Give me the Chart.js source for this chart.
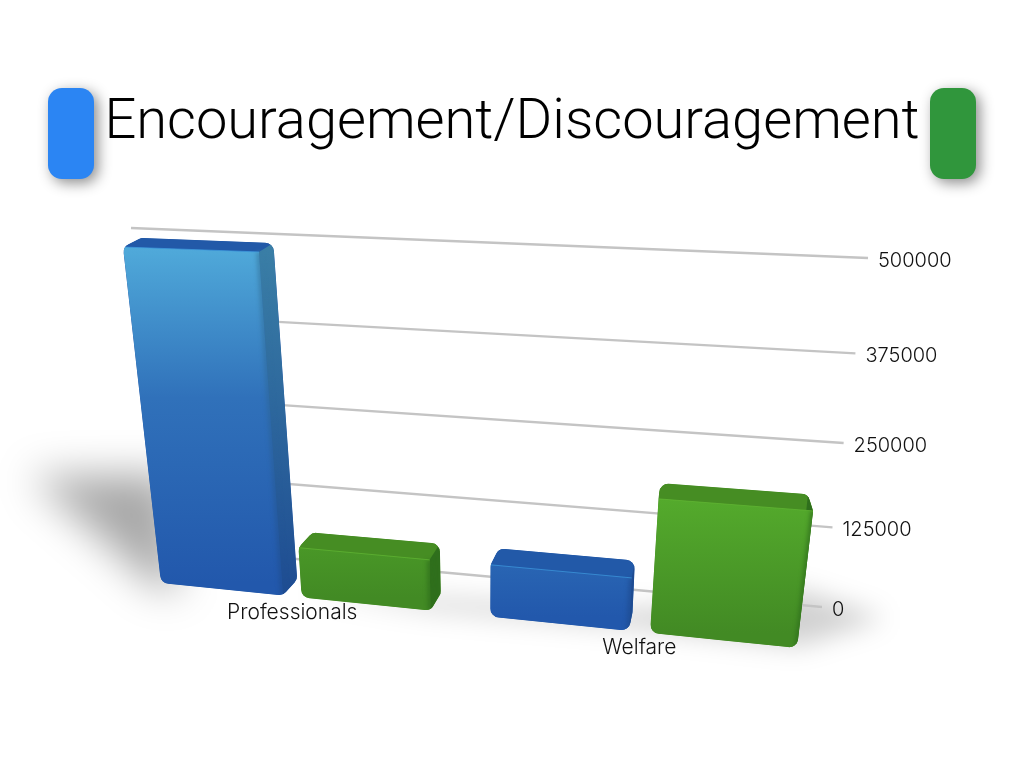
<!DOCTYPE html>
<html>
<head>
<meta charset="utf-8">
<title>Encouragement/Discouragement</title>
<script src="https://cdn.jsdelivr.net/npm/chart.js@4/dist/chart.umd.min.js"></script>
<style>
  html, body { margin: 0; padding: 0; background: #fff; }
  #wrap { width: 1024px; height: 768px; }
</style>
</head>
<body>
<div id="wrap"><canvas id="chart" width="1024" height="768"></canvas></div>
<script>
const categories = ["Professionals", "Welfare"];
const encouragement = [490000, 79000];
const discouragement = [78000, 194000];
const yMax = 500000;
const yStep = 125000;

// where the flat chart lands on the slide (tl, tr, br, bl)
const wallQuad = [[131, 228], [868, 258], [822, 607], [165, 547]];
const frontQuad = [[123, 247], [841, 273], [797, 648], [161, 583]];
const backQuad = [[141, 238], [832, 264], [794, 628], [178, 568]];
const calibValue = 490000;

const blueRamp = { low: [34, 88, 172], high: [80, 170, 218], max: 490000, top: "#2259a8", side: ["#1e4c92", "#3a7ea6"], line: "#3f9be0" };
const greenRamp = { low: [66, 138, 36], high: [84, 170, 44], max: 194000, top: "#468d23", side: ["#2f6f1c", "#3a7d20"], line: "#62b835" };

function solveHomography(src, dst) {
  const m = [];
  src.forEach((s, i) => {
    const [x, y] = s, [u, v] = dst[i];
    m.push([x, y, 1, 0, 0, 0, -u * x, -u * y, u]);
    m.push([0, 0, 0, x, y, 1, -v * x, -v * y, v]);
  });
  for (let c = 0; c < 8; c++) {
    let p = c;
    for (let r = c + 1; r < 8; r++) if (Math.abs(m[r][c]) > Math.abs(m[p][c])) p = r;
    [m[c], m[p]] = [m[p], m[c]];
    for (let r = 0; r < 8; r++) {
      if (r === c) continue;
      const f = m[r][c] / m[c][c];
      for (let k = c; k < 9; k++) m[r][k] -= f * m[c][k];
    }
  }
  const h = m.map((row, i) => row[8] / row[i]);
  return (x, y) => {
    const w = h[6] * x + h[7] * y + 1;
    return [(h[0] * x + h[1] * y + h[2]) / w, (h[3] * x + h[4] * y + h[5]) / w];
  };
}

function convexHull(pts) {
  const p = pts.slice().sort((a, b) => a[0] - b[0] || a[1] - b[1]);
  const cross = (o, a, b) => (a[0] - o[0]) * (b[1] - o[1]) - (a[1] - o[1]) * (b[0] - o[0]);
  const half = (list) => {
    const out = [];
    list.forEach((q) => {
      while (out.length > 1 && cross(out[out.length - 2], out[out.length - 1], q) <= 0) out.pop();
      out.push(q);
    });
    out.pop();
    return out;
  };
  return half(p).concat(half(p.slice().reverse()));
}

function roundedPath(ctx, pts, r) {
  const n = pts.length;
  const mid = (a, b) => [(a[0] + b[0]) / 2, (a[1] + b[1]) / 2];
  const start = mid(pts[n - 1], pts[0]);
  ctx.beginPath();
  ctx.moveTo(start[0], start[1]);
  pts.forEach((pt, i) => {
    const next = pts[(i + 1) % n];
    ctx.arcTo(pt[0], pt[1], next[0], next[1], r);
  });
  ctx.closePath();
}

function poly(ctx, pts, fill) {
  ctx.beginPath();
  pts.forEach((pt, i) => (i ? ctx.lineTo(pt[0], pt[1]) : ctx.moveTo(pt[0], pt[1])));
  ctx.closePath();
  ctx.fillStyle = fill;
  ctx.fill();
}

function rampColor(ramp, value) {
  const t = Math.min(1, value / ramp.max);
  const c = ramp.low.map((l, i) => Math.round(l + (ramp.high[i] - l) * t));
  return `rgb(${c.join(",")})`;
}

function softShape(ctx, pts, alpha, blur) {
  ctx.save();
  ctx.filter = `blur(${blur}px)`;
  poly(ctx, pts, `rgba(0,0,0,${alpha})`);
  ctx.restore();
}

function drawBar(ctx, front, back, l, r, yTop, yBase, value, ramp) {
  const f = [front(l, yTop), front(r, yTop), front(r, yBase), front(l, yBase)];
  const b = [back(l, yTop), back(r, yTop), back(r, yBase), back(l, yBase)];
  ctx.save();
  roundedPath(ctx, convexHull(f.concat(b)), 9);
  ctx.fillStyle = ramp.top;
  ctx.fill();
  ctx.clip();

  poly(ctx, [b[0], b[1], f[1], f[0]], ramp.top);

  const sideGrad = ctx.createLinearGradient(0, f[2][1], 0, f[1][1]);
  sideGrad.addColorStop(0, ramp.side[0]);
  sideGrad.addColorStop(1, value > 300000 ? ramp.side[1] : ramp.side[0]);
  poly(ctx, [f[1], b[1], b[2], f[2]], sideGrad);

  const grad = ctx.createLinearGradient(0, f[3][1], 0, f[0][1]);
  grad.addColorStop(0, rampColor(ramp, 0));
  if (value > 300000) grad.addColorStop(0.55, rampColor(ramp, 0.3 * ramp.max));
  grad.addColorStop(1, rampColor(ramp, value));
  poly(ctx, f, grad);

  // soft bevel along the right edge and the lit top edge
  ctx.save();
  ctx.filter = "blur(2px)";
  ctx.strokeStyle = sideGrad;
  ctx.globalAlpha = 0.8;
  ctx.lineWidth = 5;
  ctx.beginPath();
  ctx.moveTo(f[1][0], f[1][1]);
  ctx.lineTo(f[2][0], f[2][1]);
  ctx.stroke();
  ctx.restore();
  ctx.strokeStyle = ramp.line;
  ctx.globalAlpha = 0.7;
  ctx.lineWidth = 1;
  ctx.beginPath();
  ctx.moveTo(f[0][0], f[0][1]);
  ctx.lineTo(f[1][0], f[1][1]);
  ctx.stroke();
  ctx.restore();
}

function legendKey(ctx, x, y, w, h, color) {
  ctx.save();
  ctx.shadowColor = "rgba(0,0,0,0.45)";
  ctx.shadowBlur = 14;
  ctx.shadowOffsetX = 4;
  ctx.shadowOffsetY = 4;
  ctx.fillStyle = color;
  ctx.beginPath();
  ctx.roundRect(x, y, w, h, 14);
  ctx.fill();
  ctx.restore();
}

const perspectivePlugin = {
  id: "perspective",
  afterDatasetsDraw(chart) {
    const ctx = chart.ctx;
    const area = chart.chartArea;
    const xs = chart.scales.x, ys = chart.scales.y;
    const metaA = chart.getDatasetMeta(0), metaB = chart.getDatasetMeta(1);

    legendKey(ctx, 48, 88, 46, 91, chart.data.datasets[0].keyColor);
    legendKey(ctx, 930, 88, 46, 91, chart.data.datasets[1].keyColor);

    // floor shadows
    softShape(ctx, [[30, 476], [170, 474], [178, 590], [160, 590]], 0.34, 20);
    softShape(ctx, [[300, 590], [640, 610], [800, 590], [885, 618], [800, 646], [640, 628], [430, 610]], 0.18, 13);

    const wall = solveHomography(
      [[area.left, area.top], [area.right, area.top], [area.right, area.bottom], [area.left, area.bottom]], wallQuad);
    ctx.strokeStyle = "#c4c4c4";
    ctx.lineWidth = 2.4;
    ys.ticks.forEach((t) => {
      const y = ys.getPixelForValue(t.value);
      const a = wall(area.left, y), b = wall(area.right, y);
      ctx.beginPath();
      ctx.moveTo(a[0], a[1]);
      ctx.lineTo(b[0], b[1]);
      ctx.stroke();
    });

    const firstBar = metaA.data[0].getProps(["x", "width"], true);
    const lastBar = metaB.data[metaB.data.length - 1].getProps(["x", "width"], true);
    const fl = firstBar.x - firstBar.width / 2, fr = lastBar.x + lastBar.width / 2;
    const ft = ys.getPixelForValue(calibValue), fb = ys.getPixelForValue(0);
    const src = [[fl, ft], [fr, ft], [fr, fb], [fl, fb]];
    const front = solveHomography(src, frontQuad);
    const back = solveHomography(src, backQuad);

    chart.data.datasets.forEach((ds, d) => {
      chart.getDatasetMeta(d).data.forEach((el, i) => {
        const p = el.getProps(["x", "y", "base", "width"], true);
        drawBar(ctx, front, back, p.x - p.width / 2, p.x + p.width / 2, p.y, p.base, ds.data[i], ds.ramp);
      });
    });

    ctx.fillStyle = "#111";
    ctx.font = "300 20px Inter";
    ctx.textBaseline = "middle";
    ctx.textAlign = "left";
    ys.ticks.forEach((t) => {
      const end = wall(area.right, ys.getPixelForValue(t.value));
      ctx.fillText(String(t.value), end[0] + 10, end[1] + 3);
    });
    ctx.font = "300 21px Inter";
    ctx.textAlign = "center";
    xs.getLabels().forEach((label, i) => {
      const pos = front(xs.getPixelForValue(i), fb);
      ctx.fillText(label, pos[0], pos[1] + 16);
    });
  },
};

new Chart(document.getElementById("chart"), {
  type: "bar",
  data: {
    labels: categories,
    datasets: [
      { label: "Encouragement", data: encouragement, backgroundColor: "transparent", keyColor: "#2b85f3", ramp: blueRamp },
      { label: "Discouragement", data: discouragement, backgroundColor: "transparent", keyColor: "#30963c", ramp: greenRamp },
    ],
  },
  options: {
    responsive: false,
    animation: false,
    layout: { padding: { top: 90, left: 0, right: 0, bottom: 120 } },
    datasets: { bar: { barPercentage: 0.87, categoryPercentage: 0.885 } },
    plugins: {
      legend: { display: false },
      tooltip: { enabled: false },
      title: {
        display: true,
        text: "Encouragement/Discouragement",
        color: "#000",
        font: { family: "Roboto", size: 56, weight: "300" },
        padding: { top: 0, bottom: 20 },
      },
    },
    scales: {
      x: { display: false },
      y: { display: false, min: 0, max: yMax, ticks: { stepSize: yStep } },
    },
  },
  plugins: [perspectivePlugin],
});
</script>
</body>
</html>
